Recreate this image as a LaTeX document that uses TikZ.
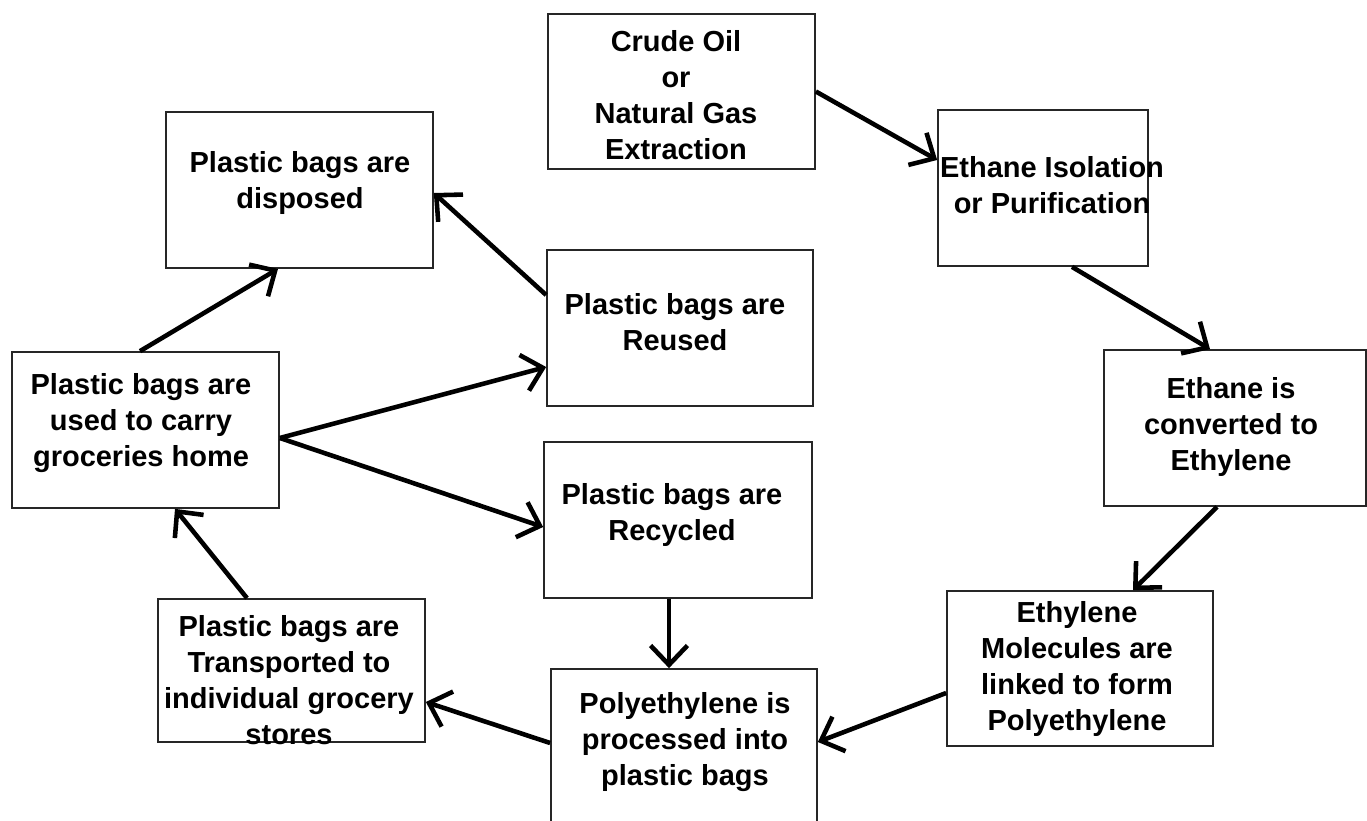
\documentclass[tikz,border=0pt]{standalone}
\usepackage{fontspec}
\setmainfont{Liberation Sans}
\usetikzlibrary{arrows.meta, calc}

\begin{document}
\begin{tikzpicture}[x=0.02cm, y=-0.02cm,
    box/.style={draw=black!85, line width=1pt, inner sep=0pt},
    lbl/.style={align=center, inner sep=0pt, font=\fontsize{16.5}{20.5}\selectfont\bfseries},
    arr/.style={line width=2.6pt, -{Straight Barb[length=11pt, width=21pt]}}]
    \useasboundingbox (0,0) rectangle (1367,821);

    % Boxes
    \node[box, minimum width=5.34cm, minimum height=3.10cm] (crude) at (681.5,91.5) {};
    \node[box, minimum width=4.20cm, minimum height=3.12cm] (ethiso) at (1043,188) {};
    \node[box, minimum width=5.24cm, minimum height=3.12cm] (ethconv) at (1235,428) {};
    \node[box, minimum width=5.32cm, minimum height=3.10cm] (ethylene) at (1080,668.5) {};
    \node[box, minimum width=5.32cm, minimum height=3.10cm] (polyeth) at (684,746.5) {};
    \node[box, minimum width=5.34cm, minimum height=2.86cm] (transp) at (291.5,670.5) {};
    \node[box, minimum width=5.34cm, minimum height=3.12cm] (used) at (145.5,430) {};
    \node[box, minimum width=5.34cm, minimum height=3.12cm] (disposed) at (299.5,190) {};
    \node[box, minimum width=5.32cm, minimum height=3.12cm] (reused) at (680,328) {};
    \node[box, minimum width=5.36cm, minimum height=3.12cm] (recycled) at (678,520) {};

    % Texts
    \node[lbl] (crude-t) at (676,95) {Crude Oil\\or\\Natural Gas\\Extraction};
    \node[lbl] (ethiso-t) at (1052,185) {Ethane Isolation\\or Purification};
    \node[lbl] (ethconv-t) at (1231,427) {Ethane is\\converted to\\Ethylene};
    \node[lbl] (ethylene-t) at (1077,669) {Ethylene\\Molecules are\\linked to form\\Polyethylene};
    \node[lbl] (polyeth-t) at (685,742) {Polyethylene is\\processed into\\plastic bags};
    \node[lbl] (transp-t) at (289,680) {Plastic bags are\\Transported to\\individual grocery\\stores};
    \node[lbl] (used-t) at (141,423) {Plastic bags are\\used to carry\\groceries home};
    \node[lbl] (disposed-t) at (300,183) {Plastic bags are\\disposed};
    \node[lbl] (reused-t) at (675,322) {Plastic bags are\\Reused};
    \node[lbl] (recycled-t) at (672,515) {Plastic bags are\\Recycled};

    % Connectors
    \coordinate (fork) at ($(used.east)+(0,8)$);
    \draw[arr] (crude.east) -- ($(ethiso.west)+(0,-28)$);
    \draw[arr] ($(ethiso.south)+(29,0)$) -- ($(ethconv.north)+(-25,0)$);
    \draw[arr] ($(ethconv.south)+(-18,0)$) -- ($(ethylene.north)+(53,0)$);
    \draw[arr] ($(ethylene.west)+(0,24.5)$) -- ($(polyeth.east)+(0,-4.5)$);
    \draw[arr] ($(polyeth.west)+(0,-3.5)$) -- ($(transp.east)+(0,31.5)$);
    \draw[arr] ($(transp.north)+(-44.5,0)$) -- ($(used.south)+(29.5,0)$);
    \draw[arr] ($(used.north)+(-5.5,0)$) -- ($(disposed.south)+(-21.5,0)$);
    \draw[arr] ($(reused.west)+(0,-33)$) -- ($(disposed.east)+(0,3)$);
    \draw[arr] (fork) -- ($(reused.west)+(0,39)$);
    \draw[arr] (fork) -- ($(recycled.west)+(0,7)$);
    \draw[arr] ($(recycled.south)+(-9,0)$) -- ($(polyeth.north)+(-15,0)$);
\end{tikzpicture}
\end{document}
